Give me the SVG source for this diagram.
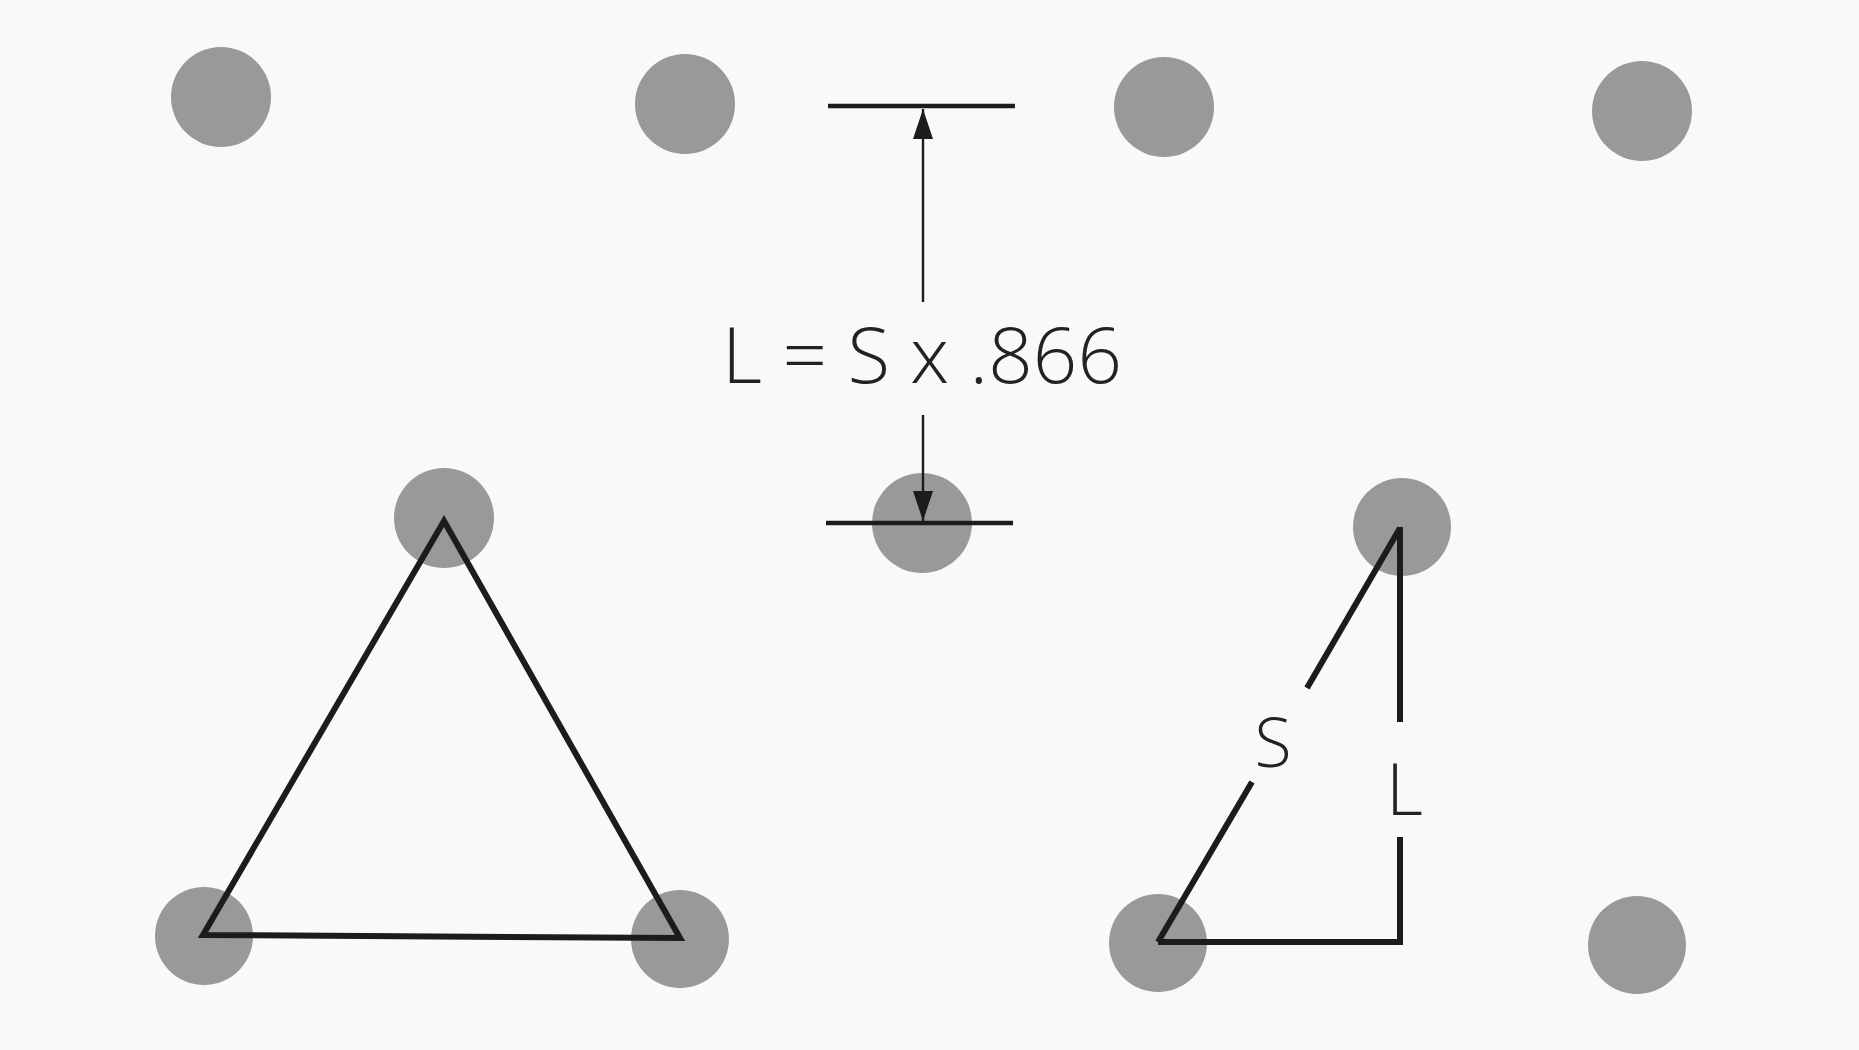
<svg xmlns="http://www.w3.org/2000/svg" width="1859" height="1050" viewBox="0 0 1859 1050">
  <style>
    .dot { fill: #999999; }
    .edge { fill: none; stroke: #1c1c1c; stroke-width: 6; stroke-linejoin: miter; stroke-linecap: butt; }
    .bar { stroke: #1c1c1c; stroke-width: 4.5; }
    .dim { stroke: #1c1c1c; stroke-width: 2.4; fill: none; }
    .lbl { font-family: "Open Sans", "Liberation Sans", Arial, sans-serif; font-weight: 360; fill: #222222; }
  </style>
  <defs>
    <marker id="arrow" viewBox="0 0 30 20" refX="30" refY="10" markerWidth="30" markerHeight="20" markerUnits="userSpaceOnUse" orient="auto">
      <path d="M0,0 L30,10 L0,20 Z" fill="#1c1c1c"/>
    </marker>
  </defs>
  <rect width="1859" height="1050" fill="#f9f9f9"/>

  <g id="dots">
    <circle id="dot-r1c1" class="dot" cx="221" cy="97" r="50"/>
    <circle id="dot-r1c2" class="dot" cx="685" cy="104" r="50"/>
    <circle id="dot-r1c3" class="dot" cx="1164" cy="107" r="50"/>
    <circle id="dot-r1c4" class="dot" cx="1642" cy="111" r="50"/>
    <circle id="dot-r2c1" class="dot" cx="444" cy="518" r="50"/>
    <circle id="dot-r2c2" class="dot" cx="922" cy="523" r="50"/>
    <circle id="dot-r2c3" class="dot" cx="1402" cy="527" r="49"/>
    <circle id="dot-r3c1" class="dot" cx="204" cy="936" r="49"/>
    <circle id="dot-r3c2" class="dot" cx="680" cy="939" r="49"/>
    <circle id="dot-r3c3" class="dot" cx="1158" cy="943" r="49"/>
    <circle id="dot-r3c4" class="dot" cx="1637" cy="945" r="49"/>
  </g>

  <g id="connectors">
    <path id="triangle" class="edge" d="M444,521 L680,938 L203,935 Z"/>
    <path id="hyp-upper" class="edge" d="M1400,528 L1307,688"/>
    <path id="hyp-lower" class="edge" d="M1252,782 L1158,942"/>
    <path id="leg-upper" class="edge" d="M1400,527 L1400,722"/>
    <path id="leg-lower" class="edge" d="M1400,837 L1400,942 L1158,942"/>
    <line class="bar" x1="828" y1="106" x2="1015" y2="106"/>
    <line class="bar" x1="826" y1="523" x2="1013" y2="523"/>
    <line class="dim" x1="923" y1="302" x2="923" y2="109" marker-end="url(#arrow)"/>
    <line class="dim" x1="923" y1="415" x2="923" y2="521" marker-end="url(#arrow)"/>
  </g>

  <g id="labels">
    <text id="formula" class="lbl" x="722" y="383" font-size="78" textLength="400" lengthAdjust="spacing">L = S x .866</text>
    <text id="label-S" class="lbl" x="1273" y="767" font-size="68" text-anchor="middle">S</text>
    <text id="label-L" class="lbl" x="1386" y="815" font-size="72">L</text>
  </g>
</svg>
